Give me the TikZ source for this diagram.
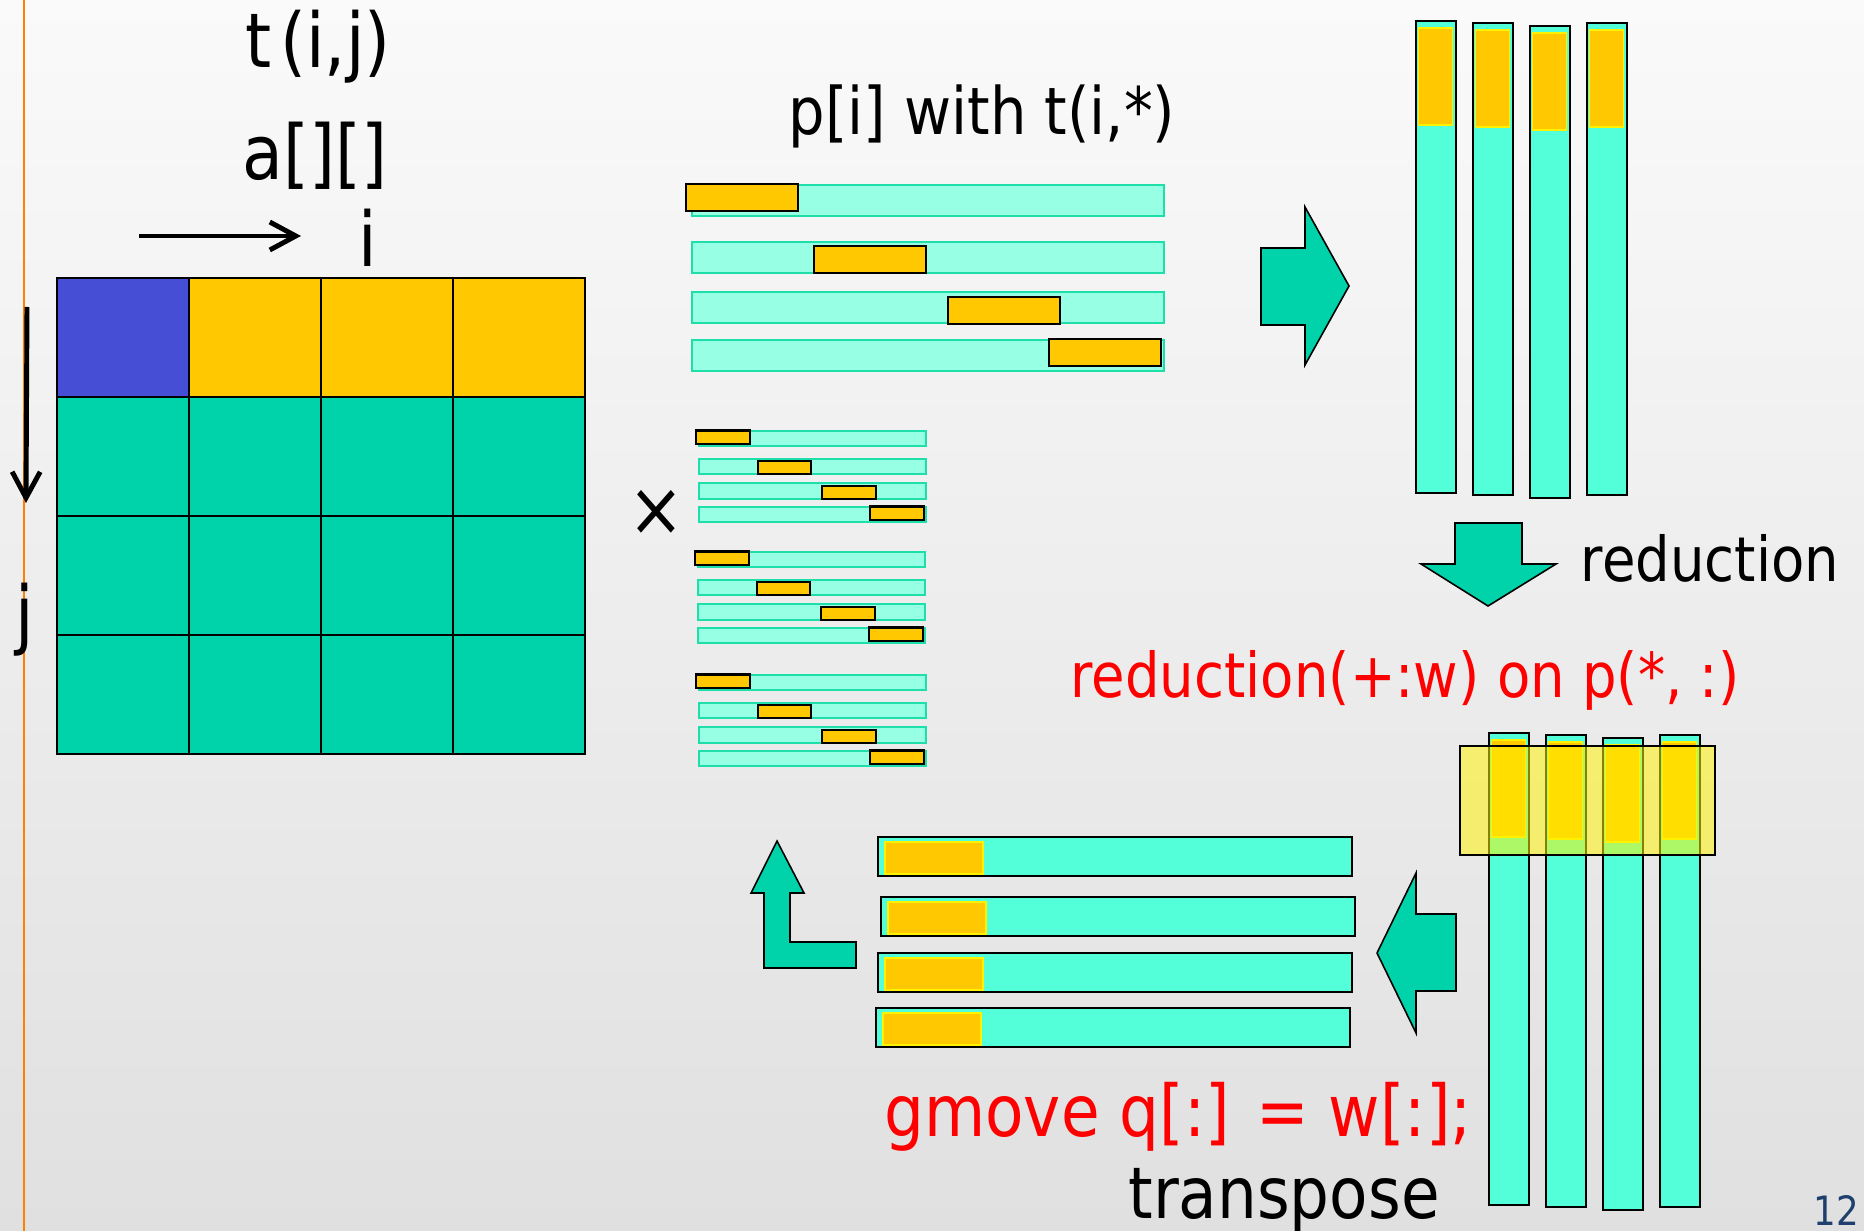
\documentclass[tikz,border=0pt]{standalone}
\usepackage{fontspec}
\setmainfont[FakeStretch=0.88]{DejaVu Sans}
\usepackage{tikz}
\usetikzlibrary{arrows.meta}
\definecolor{slidetop}{RGB}{250,250,250}
\definecolor{slidebot}{RGB}{224,224,224}
\definecolor{rulecol}{RGB}{255,128,0}
\definecolor{elemblue}{RGB}{70,78,214}
\definecolor{elemgold}{RGB}{255,200,0}
\definecolor{elemteal}{RGB}{0,210,170}
\definecolor{palecyan}{RGB}{150,255,228}
\definecolor{paleedge}{RGB}{30,222,170}
\definecolor{aqua}{RGB}{82,255,217}
\definecolor{pagenum}{RGB}{31,64,110}
\tikzstyle{cell}=[draw=black, line width=0.7pt]
\tikzstyle{palebar}=[fill=palecyan, draw=paleedge, line width=0.6pt]
\tikzstyle{hotbox}=[fill=elemgold, draw=black, line width=0.6pt]
\tikzstyle{aquabar}=[fill=aqua, draw=black, line width=0.55pt]
\tikzstyle{innerbox}=[fill=elemgold, draw=yellow, line width=0.55pt]
\tikzstyle{blockarrow}=[fill=elemteal, draw=black, line width=0.45pt, line join=miter]
\tikzstyle{dirarrow}=[line width=1.4pt, -{Straight Barb[length=2.6mm, width=2.8mm, line width=1.4pt]}]
\tikzstyle{bigtext}=[font=\fontsize{21.5}{25}\selectfont, inner sep=0pt]
\tikzstyle{codetext}=[font=\fontsize{20.3}{24}\selectfont, inner sep=0pt]
\tikzstyle{midtext}=[font=\fontsize{17.6}{21}\selectfont, inner sep=0pt]
\newcommand{\rowset}{%
  \foreach \dy/\hx/\hy in {0/-6/-1, 57/122/61, 107/256/112, 155/357/154}{
    \draw[palebar] (0,\dy) rectangle ++(472,31);
    \draw[hotbox] (\hx,\hy) rectangle ++(112,27);
  }}
\newcommand{\columnset}{%
  \foreach \cx/\cy in {0/0, 57/2, 114/5, 171/2}{
    \draw[aquabar] (\cx,\cy) rectangle ++(40,472);
    \draw[innerbox] (\cx+2.5,\cy+7) rectangle ++(34,97);
  }}

\begin{document}
\begin{tikzpicture}[x=0.01cm, y=-0.01cm]
    \useasboundingbox (0,0) rectangle (1864,1231);
    \shade[top color=slidetop, bottom color=slidebot] (0,0) rectangle (1864,1231);
    \draw[rulecol, line width=0.6pt] (24,0) -- (24,1231);

    \foreach \c in {0,...,3}
      \foreach \r in {1,...,3}{
        \draw[cell, fill=elemteal] (57+132*\c, 278+119*\r) rectangle ++(132,119);
      }
    \draw[cell, fill=elemblue] (57,278) rectangle ++(132,119);
    \foreach \c in {1,...,3}
      \draw[cell, fill=elemgold] (57+132*\c, 278) rectangle ++(132,119);

    \coordinate (itail) at (139,236);
    \coordinate (ihead) at (301,236);
    \coordinate (jtail) at (27,307);
    \coordinate (jhead) at (26,503);
    \draw[dirarrow] (itail) -- (ihead);
    \draw[dirarrow] (jtail) -- (jhead);

    \begin{scope}[shift={(692,185)}] \rowset \end{scope}
    \begin{scope}[shift={(699,431)}, xscale=0.48, yscale=0.49] \rowset \end{scope}
    \begin{scope}[shift={(698,552)}, xscale=0.48, yscale=0.49] \rowset \end{scope}
    \begin{scope}[shift={(699,675)}, xscale=0.48, yscale=0.49] \rowset \end{scope}

    \begin{scope}[shift={(1416,21)}] \columnset \end{scope}
    \begin{scope}[shift={(1489,733)}] \columnset \end{scope}
    \draw[fill=yellow, fill opacity=0.53, draw=black, line width=0.6pt] (1460,746) rectangle (1715,855);

    \foreach \bx/\by in {878/837, 881/897, 878/953, 876/1008}{
      \draw[aquabar] (\bx,\by) rectangle ++(474,39);
      \draw[innerbox] (\bx+7,\by+5) rectangle ++(98,32);
    }

    \draw[blockarrow] (1261,248) -- (1305,248) -- (1305,207) -- (1349,286) -- (1305,365) -- (1305,325) -- (1261,325) -- cycle;
    \draw[blockarrow] (1455,523) -- (1522,523) -- (1522,564) -- (1556,564) -- (1488,606) -- (1421,564) -- (1455,564) -- cycle;
    \draw[blockarrow] (1456,914) -- (1416,914) -- (1416,873) -- (1377,953) -- (1416,1033) -- (1416,991) -- (1456,991) -- cycle;
    \draw[blockarrow] (777,841) -- (804,893) -- (790,893) -- (790,942) -- (856,942) -- (856,968) -- (764,968) -- (764,893) -- (751,893) -- cycle;

    \path
    (318,68) node[bigtext, anchor=base] (tij) {t\kern.12em(i,j)}
    (315,180) node[bigtext, anchor=base] (arr) {a[][]}
    (368,267) node[bigtext, anchor=base] (ilab) {i}
    (25,640) node[bigtext, anchor=base] (jlab) {j}
    (656,513) node[bigtext] (times) {×};

    \path
    (982,135) node[midtext, font=\fontsize{18.6}{22}\selectfont, anchor=base] (prow) {p[i] with t(i,*)}
    (1710,582) node[midtext, anchor=base] (redword) {reduction}
    (1405,697) node[midtext, text=red, anchor=base] (redop) {reduction(+:w) on p(*, :)}
    (1178,1136) node[codetext, text=red, anchor=base] (gmove) {gmove q[:] = w[:];}
    (1284,1218) node[codetext, anchor=base] (transp) {transpose}
    (1836,1225) node[font=\fontsize{11.5}{13}\selectfont, text=pagenum, inner sep=0pt, anchor=base] (pgno) {12};
\end{tikzpicture}
\end{document}
